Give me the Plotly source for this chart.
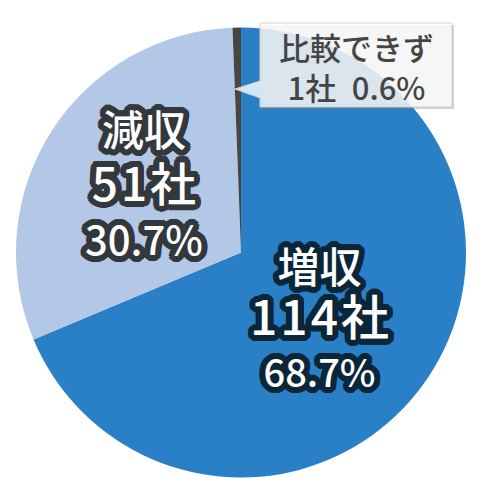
import math
import plotly.graph_objects as go

labels = ["増収", "減収", "比較できず"]
counts = [114, 51, 1]
pcts = [68.7, 30.7, 0.6]
colors = ["#2a80c6", "#b3c7e7", "#4b4540"]

W, H = 482, 500

def px(x):
    return x / W

def py(y):
    return 1 - y / H

def outline(color, r):
    parts = []
    for rr in (r, r * 0.66, r * 0.33):
        for k in range(24):
            a = 2 * math.pi * k / 24
            parts.append(f"{rr*math.cos(a):.1f}px {rr*math.sin(a):.1f}px 0 {color}")
    return ", ".join(parts)

fig = go.Figure()
fig.add_trace(go.Pie(
    labels=labels,
    values=counts,
    sort=False,
    direction="clockwise",
    rotation=0,
    marker=dict(colors=colors, line=dict(width=0)),
    textinfo="none",
    hoverinfo="skip",
    showlegend=False,
    domain=dict(x=[px(16), px(466)], y=[py(478), py(27)]),
))

FONT = "Noto Sans CJK JP"
HS = "\u200a"

def group(x, y, lines, base, oc):
    text = "<br>".join(f"<span style='font-size:{s}px'>{t}</span>" for t, s in lines)
    fig.add_annotation(
        x=px(x), y=py(y), xref="paper", yref="paper", text=text, showarrow=False,
        xanchor="center", yanchor="middle", align="center",
        font=dict(family=FONT, size=base, color="white", weight=500, shadow=outline(oc, 6)),
    )

# 減収
group(144, 182, [(labels[1], 42), (HS.join(f"{counts[1]}社"), 46), (f"{pcts[1]}%", 40)], 42, "#33383c")
# 増収
group(319, 316, [(labels[0], 42), (HS.join(f"{counts[0]}社"), 48), (f"{pcts[0]}%", 38)], 40, "#0b2638")

# callout box
shapes = []
shapes.append(dict(type="rect", xref="paper", yref="paper",
                   x0=px(262), x1=px(454), y0=py(109), y1=py(25),
                   fillcolor="rgba(120,120,120,0.35)", line=dict(width=0), layer="above"))
shapes.append(dict(type="path", xref="paper", yref="paper",
                   path=f"M {px(260)},{py(23)} L {px(452)},{py(23)} L {px(452)},{py(107)} L {px(260)},{py(107)} "
                        f"L {px(260)},{py(98)} L {px(235)},{py(89)} L {px(260)},{py(81)} Z",
                   fillcolor="rgba(255,255,255,0.8)", line=dict(color="#d0d0d0", width=1), layer="above"))
fig.update_layout(shapes=shapes)

box_text = f"{labels[2]}<br>{counts[2]}社\u2002{pcts[2]}%"
fig.add_annotation(x=px(356), y=py(66), xref="paper", yref="paper", text=box_text, showarrow=False,
                   xanchor="center", yanchor="middle", align="center",
                   font=dict(family=FONT, size=31, color="#454545", weight=500))

fig.update_layout(
    width=W, height=H,
    margin=dict(l=0, r=0, t=0, b=0),
    paper_bgcolor="white", plot_bgcolor="white",
)

fig.write_html("out.html", post_script="document.body.style.margin='0px';",
               config={"displayModeBar": False})
